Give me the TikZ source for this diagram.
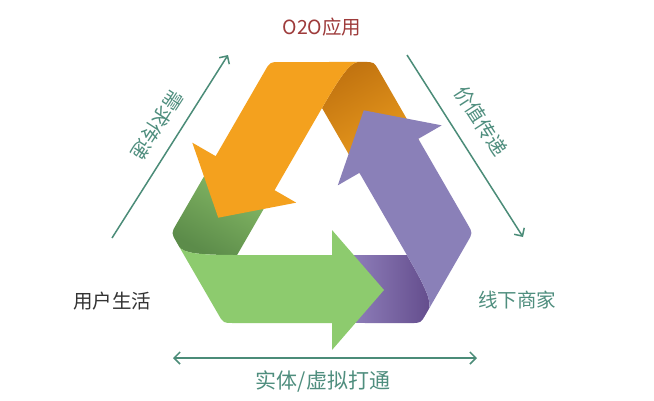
\documentclass[tikz,border=0pt]{standalone}
\usepackage{fontspec}
\newfontfamily\cjk{Noto Sans CJK SC}
\usetikzlibrary{arrows.meta}
\definecolor{bandorange}{HTML}{F4A11E}
\definecolor{foldorangeA}{HTML}{EFA020}
\definecolor{foldorangeB}{HTML}{C27410}
\definecolor{bandgreen}{HTML}{8DCB6E}
\definecolor{foldgreenA}{HTML}{8FC46C}
\definecolor{foldgreenB}{HTML}{5C8C4A}
\definecolor{bandpurple}{HTML}{8A80B8}
\definecolor{foldpurpleA}{HTML}{9A8CC6}
\definecolor{foldpurpleB}{HTML}{634C8C}
\definecolor{flowgreen}{HTML}{4B8C78}
\definecolor{textgreen}{HTML}{4F8E7E}
\definecolor{textred}{HTML}{9E3B3B}
\definecolor{textgray}{HTML}{333333}
\begin{document}
\begin{tikzpicture}[x=1pt,y=-1pt,
  cjktext/.style={font=\cjk\fontsize{19.5}{20}\selectfont},
  flow/.style={draw=flowgreen,line width=1.5pt}]
  \useasboundingbox[fill=white] (0,0) rectangle (654,400);
  % folds first, each lies under the head of the next band
  \foreach \r/\c/\s in {-120/orange/-150,0/green/-30,120/purple/90}{
    \shade[shift={(322,206)},rotate=\r,top color=fold\c A,bottom color=fold\c B,shading angle=\s]
      (-105.5,-51.2) -- (-145.7,18.3) .. controls (-150.7,27) .. (-145.7,35.7)
      -- (-142.7,40.9) .. controls (-138,47) and (-125,49) .. (-84.9,49)
      -- (-46.7,-17.2) -- cycle;
  }
  \foreach \r/\c in {-120/orange,0/green,120/purple}{
    \fill[band\c,shift={(322,206)},rotate=\r]
      (-84.9,49) -- (10,49) -- (10,24) -- (62,84) -- (10,144) -- (10,117)
      -- (-88.7,117) .. controls (-98.7,117) .. (-103.7,108.3)
      -- (-142.7,40.9) .. controls (-138,47) and (-125,49) .. (-84.9,49) -- cycle;
  }
  \coordinate (d1) at (112,238);
  \coordinate (d2) at (228,55);
  \coordinate (v1) at (407,55);
  \coordinate (v2) at (523,237);
  \coordinate (b1) at (173,358);
  \coordinate (b2) at (477,358);
  \draw[flow,-{Straight Barb[length=6pt,width=12pt]}] (d1) -- (d2);
  \draw[flow,-{Straight Barb[length=6pt,width=12pt]}] (v1) -- (v2);
  \draw[flow,{Straight Barb[length=6pt,width=12pt]}-{Straight Barb[length=6pt,width=12pt]}] (b1) -- (b2);
  \node[cjktext,text=textred] (o2o) at (322,27) {O2O应用};
  \node[cjktext,text=textgray] (user) at (112,301) {用户生活};
  \node[cjktext,text=textgreen] (shop) at (517,300) {线下商家};
  \node[cjktext,text=textgreen,rotate=237] (demand) at (157,125) {需求传递};
  \node[cjktext,text=textgreen,rotate=-57] (value) at (481,121) {价值传递};
  \node[cjktext,text=textgreen,font=\cjk\fontsize{21}{22}\selectfont] (merge) at (323,381) {实体/虚拟打通};
\end{tikzpicture}
\end{document}
